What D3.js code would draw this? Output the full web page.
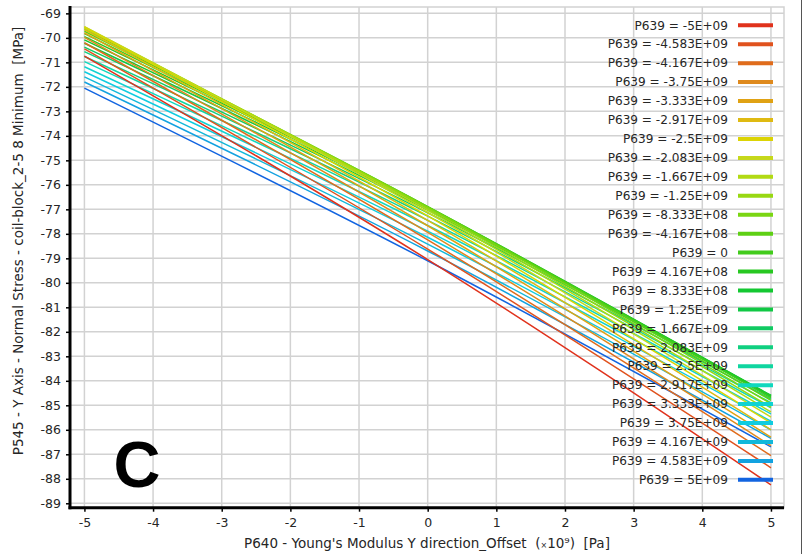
<!DOCTYPE html>
<html>
<head>
<meta charset="utf-8">
<script src="https://cdn.jsdelivr.net/npm/d3@7"></script>
<style>
  body { margin: 0; background: #fff; }
  text { font-family: "DejaVu Sans", sans-serif; fill: #262626; white-space: pre; }
</style>
</head>
<body>
<script>
var width = 808;
var height = 554;

// P639 values (legend labels)
var seriesLabels = ["P639 = -5E+09", "P639 = -4.583E+09", "P639 = -4.167E+09", "P639 = -3.75E+09",
  "P639 = -3.333E+09", "P639 = -2.917E+09", "P639 = -2.5E+09", "P639 = -2.083E+09",
  "P639 = -1.667E+09", "P639 = -1.25E+09", "P639 = -8.333E+08", "P639 = -4.167E+08",
  "P639 = 0", "P639 = 4.167E+08", "P639 = 8.333E+08", "P639 = 1.25E+09",
  "P639 = 1.667E+09", "P639 = 2.083E+09", "P639 = 2.5E+09", "P639 = 2.917E+09",
  "P639 = 3.333E+09", "P639 = 3.75E+09", "P639 = 4.167E+09", "P639 = 4.583E+09",
  "P639 = 5E+09"];

var seriesColors = ["#e0321c", "#e0521e", "#e06c1c", "#df8a1e", "#e0a214", "#dfba12",
  "#dcd404", "#c6d81c", "#b2da14", "#98d812", "#7ad612", "#5ed014",
  "#42cc1c", "#28c822", "#14c832", "#10c844", "#10ca62", "#10d080",
  "#10d6a0", "#10d8be", "#10d2d2", "#10cce0", "#12b8da", "#12a2e0", "#1264e0"];

// x sample points (P640, x10^9 Pa)
var xPoints = [-5, 0, 5];

// stress at x = -5, 0 and 5 for each series [MPa]
var startValues = [-70.74, -70.45, -70.20, -69.98, -69.80, -69.66, -69.57, -69.54,
  -69.55, -69.59, -69.65, -69.73, -69.83, -69.95, -70.08, -70.22,
  -70.38, -70.56, -70.76, -70.97, -71.18, -71.38, -71.59, -71.80, -72.05];
var midValues = [-79.05, -78.62, -78.25, -77.94, -77.67, -77.45, -77.27, -77.13,
  -77.03, -76.96, -76.91, -76.89, -76.89, -76.91, -76.96, -77.03,
  -77.14, -77.28, -77.45, -77.66, -77.89, -78.14, -78.42, -78.70, -79.10];
var endValues = [-88.25, -87.55, -87.05, -86.65, -86.30, -86.00, -85.72, -85.48,
  -85.27, -85.08, -84.93, -84.80, -84.70, -84.63, -84.60, -84.60,
  -84.65, -84.75, -84.90, -85.10, -85.35, -85.65, -86.00, -86.35, -86.70];

var xTicks = [-5, -4, -3, -2, -1, 0, 1, 2, 3, 4, 5];
var yTicks = d3.range(-69, -90, -1);

var svg = d3.select("body").append("svg")
  .attr("width", width).attr("height", height);

var plotLeft = 70, plotRight = 784, plotTop = 7, plotBottom = 507.7;

var x = d3.scaleLinear().domain([-5.21, 5.19]).range([plotLeft, plotRight]);
var y = d3.scaleLinear().domain([-68.74, -89.18]).range([plotTop, plotBottom]);

// grid
var grid = svg.append("g");
grid.selectAll(".vg").data(xTicks).enter().append("line")
  .attr("x1", function (d) { return x(d); }).attr("x2", function (d) { return x(d); })
  .attr("y1", plotTop).attr("y2", plotBottom)
  .style("stroke", "#d2d2d2").style("stroke-width", 1.5);
grid.selectAll(".hg").data(yTicks).enter().append("line")
  .attr("x1", plotLeft).attr("x2", plotRight)
  .attr("y1", function (d) { return y(d); }).attr("y2", function (d) { return y(d); })
  .style("stroke", "#d2d2d2").style("stroke-width", 1.5);
grid.append("rect").attr("x", plotLeft).attr("y", plotTop)
  .attr("width", plotRight - plotLeft).attr("height", plotBottom - plotTop)
  .style("fill", "none").style("stroke", "#d2d2d2").style("stroke-width", 1.5);

// series lines
var series = seriesLabels.map(function (label, i) {
  return { label: label, color: seriesColors[i], values: [startValues[i], midValues[i], endValues[i]] };
});

var line = d3.line()
  .x(function (d, j) { return x(xPoints[j]); })
  .y(function (d) { return y(d); })
  .curve(d3.curveMonotoneX);

// last series drawn first, so the yellow ones sit on top of the band
svg.append("g").selectAll("path").data(series.slice().reverse()).enter().append("path")
  .attr("d", function (d) { return line(d.values); })
  .style("fill", "none")
  .style("stroke", function (d) { return d.color; })
  .style("stroke-width", 1.5);

// axes
var yAxis = svg.append("g").attr("transform", "translate(" + plotLeft + ",0)")
  .call(d3.axisLeft(y).tickValues(yTicks).tickSize(4).tickPadding(5));
var xAxis = svg.append("g").attr("transform", "translate(0," + plotBottom + ")")
  .call(d3.axisBottom(x).tickValues(xTicks).tickSize(4).tickPadding(6));
[xAxis, yAxis].forEach(function (a) {
  a.select(".domain").remove();
  a.selectAll(".tick line").style("stroke", "#000").style("stroke-width", 1.5);
  a.selectAll(".tick text").style("font-family", "DejaVu Sans").style("font-size", "12.5px")
    .style("fill", "#262626");
});
xAxis.selectAll(".tick text").text(function (d) { return d < 0 ? "-" + Math.abs(d) : d; });
yAxis.selectAll(".tick text").text(function (d) { return "-" + Math.abs(d); });

svg.append("line").attr("x1", plotLeft).attr("x2", plotLeft).attr("y1", plotTop - 1).attr("y2", plotBottom + 1.5)
  .style("stroke", "#000").style("stroke-width", 3);
svg.append("line").attr("x1", plotLeft - 1.5).attr("x2", plotRight).attr("y1", plotBottom).attr("y2", plotBottom)
  .style("stroke", "#000").style("stroke-width", 3);

// legend
var legend = svg.append("g").selectAll("g").data(series).enter().append("g")
  .attr("transform", function (d, i) { return "translate(0," + (25.3 + i * 18.94) + ")"; });
legend.append("text")
  .attr("x", 728).attr("y", 0).attr("dy", "0.35em")
  .attr("text-anchor", "end")
  .style("font-size", "12.1px")
  .text(function (d) { return d.label; });
legend.append("line")
  .attr("x1", 738).attr("x2", 773)
  .style("stroke", function (d) { return d.color; })
  .style("stroke-width", 4);

// axis titles
svg.append("text")
  .attr("x", 427).attr("y", 548)
  .attr("text-anchor", "middle")
  .style("font-size", "13.5px")
  .html("P640 - Young's Modulus Y direction_Offset  (<tspan style='font-size:8px'>\u00d7</tspan>10\u2079)  [Pa]");

svg.append("text")
  .attr("transform", "translate(23,241) rotate(-90)")
  .attr("text-anchor", "middle")
  .style("font-size", "13.5px")
  .text("P545 - Y Axis - Normal Stress - coil-block_2-5 8 Minimum  [MPa]");

// panel letter
svg.append("text")
  .attr("x", 137).attr("y", 487)
  .attr("text-anchor", "middle")
  .style("font-family", "Liberation Sans, Arial, sans-serif")
  .style("font-weight", "bold")
  .style("font-size", "65px")
  .style("fill", "#000")
  .text("C");

// right frame edge
svg.append("line").attr("x1", 801.5).attr("x2", 801.5).attr("y1", 0).attr("y2", height)
  .style("stroke", "#555").style("stroke-width", 1);
</script>
</body>
</html>
